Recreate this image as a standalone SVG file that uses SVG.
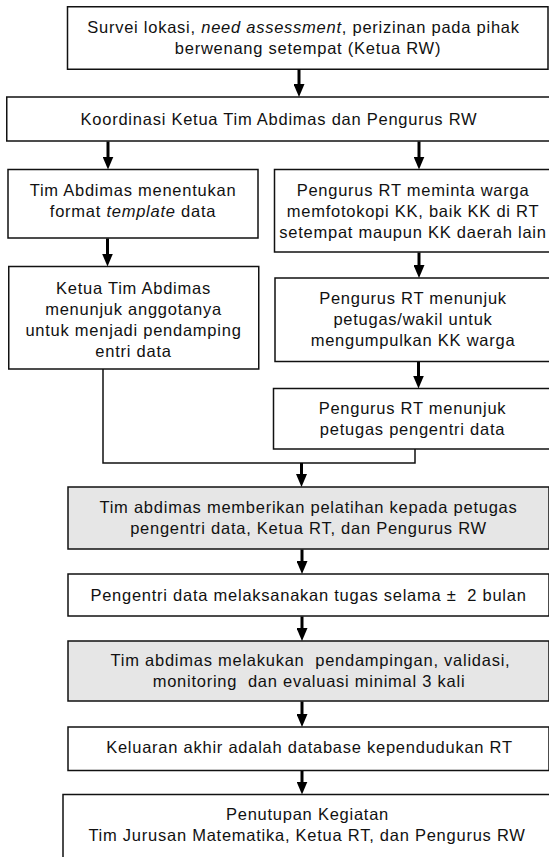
<svg xmlns="http://www.w3.org/2000/svg" width="549" height="857" viewBox="0 0 549 857">
<style>
  .box { fill: #ffffff; stroke: #111111; stroke-width: 1.5; }
  .gray { fill: #e6e6e6; }
  text { font-family: "Liberation Sans", Arial, sans-serif; font-size: 16.5px; letter-spacing: 0.75px; fill: #111111; text-anchor: middle; white-space: pre; }
  .it { font-style: italic; }
  .arrow { fill: none; stroke: #000000; stroke-width: 3; marker-end: url(#ah); }
  .line { fill: none; stroke: #111111; stroke-width: 1.5; }
</style>
<defs>
  <marker id="ah" markerUnits="userSpaceOnUse" viewBox="0 0 13 11" refX="5" refY="5.5" markerWidth="13" markerHeight="11" orient="auto">
    <path d="M0,0 L13,5.5 L0,11 z" fill="#000000"/>
  </marker>
</defs>
<rect width="549" height="857" fill="#ffffff"/>

<g id="n1">
  <rect class="box" x="67.5" y="6.75" width="480.5" height="62.5"/>
  <text x="303.5" y="32.5" xml:space="preserve">Survei lokasi, <tspan class="it">need assessment</tspan>, perizinan pada pihak</text>
  <text x="308" y="53.5">berwenang setempat (Ketua RW)</text>
</g>
<g id="n2">
  <rect class="box" x="6.75" y="97" width="546" height="44"/>
  <text x="279" y="124.5">Koordinasi Ketua Tim Abdimas dan Pengurus RW</text>
</g>
<g id="n3">
  <rect class="box" x="8" y="169.5" width="250" height="68.5"/>
  <text x="133" y="195.5" xml:space="preserve">Tim Abdimas menentukan</text>
  <text x="133" y="216.5" xml:space="preserve">format <tspan class="it">template</tspan> data</text>
</g>
<g id="n4">
  <rect class="box" x="274.5" y="169.5" width="278" height="82.5"/>
  <text x="413" y="195.5">Pengurus RT meminta warga</text>
  <text x="413" y="216.5">memfotokopi KK, baik KK di RT</text>
  <text x="413" y="237.5">setempat maupun KK daerah lain</text>
</g>
<g id="n5">
  <rect class="box" x="8.75" y="266.5" width="250" height="102.5"/>
  <text x="133.5" y="293.5">Ketua Tim Abdimas</text>
  <text x="133.5" y="314.5">menunjuk anggotanya</text>
  <text x="133.5" y="335.5">untuk menjadi pendamping</text>
  <text x="133.5" y="356.5">entri data</text>
</g>
<g id="n6">
  <rect class="box" x="275" y="278" width="277.5" height="83.5"/>
  <text x="413" y="304">Pengurus RT menunjuk</text>
  <text x="413" y="325">petugas/wakil untuk</text>
  <text x="413" y="346">mengumpulkan KK warga</text>
</g>
<g id="n7">
  <rect class="box" x="273.5" y="388.5" width="279" height="60.5"/>
  <text x="412.5" y="413.5">Pengurus RT menunjuk</text>
  <text x="412.5" y="434.5">petugas pengentri data</text>
</g>
<g id="n8">
  <rect class="box gray" x="68" y="487" width="481" height="62"/>
  <text x="308.5" y="513">Tim abdimas memberikan pelatihan kepada petugas</text>
  <text x="308.5" y="534">pengentri data, Ketua RT, dan Pengurus RW</text>
</g>
<g id="n9">
  <rect class="box" x="68" y="574" width="481" height="42"/>
  <text x="308.5" y="601" xml:space="preserve">Pengentri data melaksanakan tugas selama ±  2 bulan</text>
</g>
<g id="n10">
  <rect class="box gray" x="68" y="641" width="481" height="60"/>
  <text x="310.5" y="666" xml:space="preserve">Tim abdimas melakukan  pendampingan, validasi,</text>
  <text x="309" y="687" xml:space="preserve">monitoring  dan evaluasi minimal 3 kali</text>
</g>
<g id="n11">
  <rect class="box" x="68" y="727" width="481" height="43.5"/>
  <text x="309.5" y="753">Keluaran akhir adalah database kependudukan RT</text>
</g>
<g id="n12">
  <rect class="box" x="63" y="794.5" width="490" height="80"/>
  <text x="307.5" y="820">Penutupan Kegiatan</text>
  <text x="307" y="841">Tim Jurusan Matematika, Ketua RT, dan Pengurus RW</text>
</g>

<g id="connectors">
  <path class="arrow" d="M299,69.5 V89"/>
  <path class="arrow" d="M108,141.5 V161.5"/>
  <path class="arrow" d="M419,141.5 V161.5"/>
  <path class="arrow" d="M107.5,238.5 V258.5"/>
  <path class="arrow" d="M419,252.5 V270"/>
  <path class="arrow" d="M418.5,362 V380.5"/>
  <path class="line" d="M103,369 V463 H415 V449"/>
  <path class="arrow" d="M301.5,463 V479"/>
  <path class="arrow" d="M302,549.5 V566"/>
  <path class="arrow" d="M302,616.5 V633"/>
  <path class="arrow" d="M302,701.5 V719"/>
  <path class="arrow" d="M302,771 V786.5"/>
</g>
</svg>
